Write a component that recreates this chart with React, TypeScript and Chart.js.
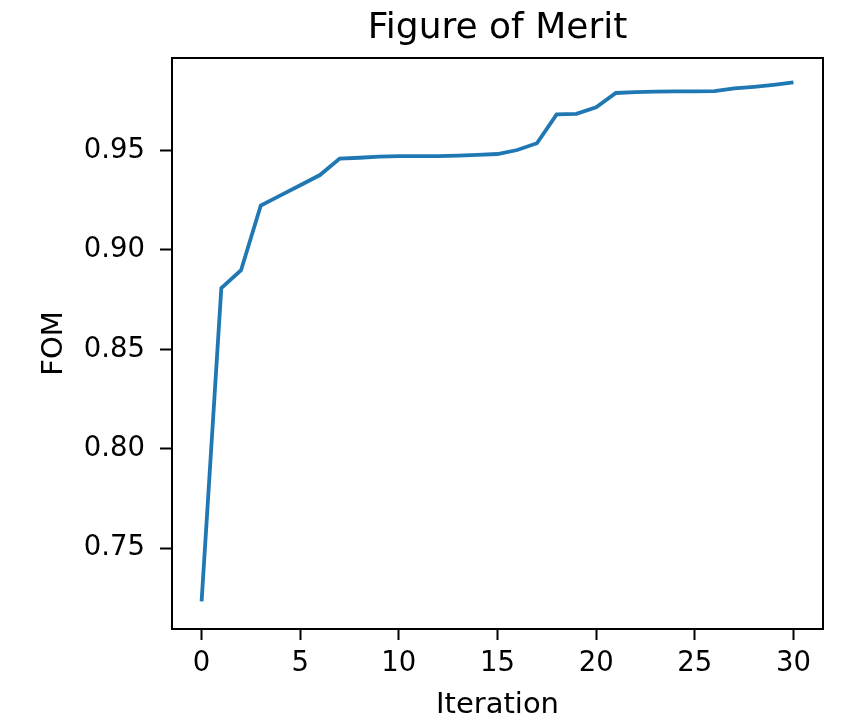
import React, { useEffect, useRef } from "react";
import { Chart, registerables } from "chart.js";

Chart.register(...registerables);

const iterations = [0, 1, 2, 3, 4, 5, 6, 7, 8, 9, 10, 11, 12, 13, 14, 15, 16, 17, 18, 19, 20, 21, 22, 23, 24, 25, 26, 27, 28, 29, 30];
const fom = [
  0.7232, 0.8808, 0.8898, 0.9224, 0.9275, 0.9326, 0.9377, 0.9460, 0.9464, 0.9470,
  0.9472, 0.9472, 0.9472, 0.9475, 0.9479, 0.9483, 0.9503, 0.9537, 0.9682, 0.9685,
  0.9718, 0.9790, 0.9794, 0.9797, 0.9798, 0.9798, 0.9799, 0.9813, 0.9821, 0.9831,
  0.9843,
];
const xTicks = [0, 5, 10, 15, 20, 25, 30];
const yTicks = [0.75, 0.8, 0.85, 0.9, 0.95];
const xLimits = [-1.5, 31.5];
const yLimits = [0.7093, 0.9966];

const FONT = "'DejaVu Sans', sans-serif";

const framePlugin = {
  id: "frame",
  afterDraw(chart: any) {
    const { ctx, chartArea } = chart;
    ctx.save();
    ctx.strokeStyle = "#000";
    ctx.lineWidth = 2;
    ctx.strokeRect(chartArea.left, chartArea.top, chartArea.right - chartArea.left, chartArea.bottom - chartArea.top);
    ctx.restore();
  },
};

export default function App() {
  const ref = useRef<HTMLCanvasElement>(null);
  useEffect(() => {
    if (!ref.current) return;
    const chart = new Chart(ref.current, {
      type: "line",
      data: {
        datasets: [
          {
            data: iterations.map((x, i) => ({ x, y: fom[i] })),
            borderColor: "#1f77b4",
            borderWidth: 3.8,
            pointRadius: 0,
            tension: 0,
            fill: false,
          },
        ],
      },
      options: {
        animation: false,
        responsive: false,
        layout: { padding: { left: 0, top: 0, right: 22, bottom: 0 } },
        plugins: {
          legend: { display: false },
          tooltip: { enabled: false },
          title: {
            display: true,
            fullSize: false,
            text: "Figure of Merit",
            color: "#000",
            font: { family: FONT, size: 36, weight: "normal" },
            padding: { top: 7, bottom: 7.8 },
          },
        },
        scales: {
          x: {
            type: "linear",
            min: xLimits[0],
            max: xLimits[1],
            afterBuildTicks: (scale: any) => {
              scale.ticks = xTicks.map((v) => ({ value: v }));
            },
            afterFit: (scale: any) => {
              scale.height = 97;
            },
            grid: { drawOnChartArea: false, drawTicks: true, tickLength: 11, tickColor: "#000", tickWidth: 2 },
            border: { display: false },
            ticks: {
              color: "#000",
              font: { family: FONT, size: 27.5 },
              padding: 7.5,
              maxRotation: 0,
              autoSkip: false,
              callback: (v: any) => String(v),
            },
            title: {
              display: true,
              text: "Iteration",
              color: "#000",
              font: { family: FONT, size: 29 },
              padding: { top: 0, bottom: 3.6 },
            },
          },
          y: {
            type: "linear",
            min: yLimits[0],
            max: yLimits[1],
            afterBuildTicks: (scale: any) => {
              scale.ticks = yTicks.map((v) => ({ value: v }));
            },
            afterFit: (scale: any) => {
              scale.width = 172;
            },
            grid: { drawOnChartArea: false, drawTicks: true, tickLength: 12, tickColor: "#000", tickWidth: 2 },
            border: { display: false },
            ticks: {
              color: "#000",
              font: { family: FONT, size: 27.5 },
              padding: 15,
              autoSkip: false,
              callback: (v: any) => Number(v).toFixed(2),
            },
            title: {
              display: true,
              text: "FOM",
              color: "#000",
              font: { family: FONT, size: 29 },
              padding: { top: 37, bottom: 0 },
            },
          },
        },
      },
      plugins: [framePlugin],
    });
    return () => chart.destroy();
  }, []);
  return (
    <div style={{ position: "fixed", left: 0, top: 0, width: 845, height: 726, background: "#fff" }}>
      <canvas ref={ref} width={845} height={726} />
    </div>
  );
}
